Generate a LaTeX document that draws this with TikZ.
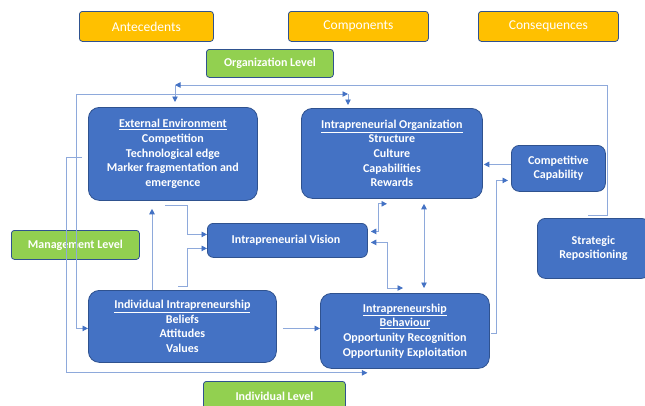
\documentclass[tikz,border=0pt]{standalone}
\usepackage{fontspec}
\setmainfont{Carlito}
\usetikzlibrary{positioning, calc, arrows.meta}
\definecolor{CardBlue} {HTML}{4472C4}
\definecolor{CardEdge} {HTML}{2F528F}
\definecolor{TagGold}  {HTML}{FFC000}
\definecolor{LvlGreen} {HTML}{92D050}
\definecolor{LinkBlue} {HTML}{8EA9DB}
\definecolor{TipBlue}  {HTML}{4472C4}

\tikzset{
  card/.style={fill=CardBlue, draw=CardEdge, line width=0.8pt, rounded corners=11pt,
               anchor=north west, inner sep=0pt, align=center, text=white,
               font=\fontsize{12}{14.6}\selectfont\bfseries},
  tag/.style={fill=TagGold, draw=CardEdge, line width=0.8pt, rounded corners=3pt,
              anchor=north west, inner sep=0pt, text=white,
              font=\fontsize{13.5}{16}\selectfont},
  lvl/.style={fill=LvlGreen, draw=CardEdge, line width=0.8pt, rounded corners=3pt,
              anchor=north west, inner sep=0pt, text=white,
              font=\fontsize{12}{14}\selectfont\bfseries},
  link/.style={draw=LinkBlue, line width=0.9pt},
}

\begin{document}
\begin{tikzpicture}[x=1pt, y=-1pt, >={Triangle[length=5.5pt, width=5.5pt, color=TipBlue]}]
      \useasboundingbox (0,0) rectangle (645,405);

      % Column headers
      \node[tag, minimum width=134pt, minimum height=30pt] (ante) at (79,11) {Antecedents};
      \node[tag, minimum width=140pt, minimum height=30pt] (comp) at (288,11) {Components};
      \node[tag, minimum width=140pt, minimum height=30pt] (cons) at (478,11) {Consequences};

      % Level labels
      \node[lvl, minimum width=127pt, minimum height=28pt] (orglvl) at (206,49) {Organization Level};
      \node[lvl, minimum width=128pt, minimum height=29pt] (mgmtlvl) at (11,230) {Management Level};
      \node[lvl, minimum width=142pt, minimum height=30pt] (indlvl) at (203,381) {Individual Level};

      % Blue cards
      \node[card, minimum width=169pt, minimum height=93pt] (extenv) at (88,107) {
        \underline{External Environment}\\
        Competition\\
        Technological edge\\
        Marker fragmentation and\\
        emergence
      };
      \node[card, minimum width=181pt, minimum height=90pt] (intorg) at (301,108) {
        \underline{Intrapreneurial Organization}\\
        Structure\\
        Culture\\
        Capabilities\\
        Rewards
      };
      \node[card, rounded corners=8pt, minimum width=94pt, minimum height=46pt] (compcap) at (511,145) {
        Competitive\\
        Capability
      };
      \node[card, rounded corners=8pt, minimum width=112pt, minimum height=60pt] (strat) at (537,218) {
        Strategic\\
        Repositioning
      };
      \node[card, rounded corners=6pt, minimum width=160pt, minimum height=34pt] (vision) at (207,223) {
        Intrapreneurial Vision
      };
      \node[card, minimum width=188pt, minimum height=72pt] (indintr) at (88,290) {
        \underline{Individual Intrapreneurship}\\
        Beliefs\\
        Attitudes\\
        Values
      };
      \node[card, minimum width=169pt, minimum height=75pt] (behav) at (320,293) {
        \underline{Intrapreneurship}\\
        \underline{Behaviour}\\
        Opportunity Recognition\\
        Opportunity Exploitation
      };

      % Feedback loops round the top
      \coordinate (toploop) at (175,85);
      \coordinate (orgjoin) at (348,94);
      \draw[link, ->] ($(strat.north west)+(51,-3)$) -- ++(19,0) |- (toploop);
      \draw[link, ->] (toploop) -- ($(toploop |- extenv.north)+(0,-5)$);
      \draw[link, <->] (orgjoin) -| ($(indintr.west)+(-12,2)$) -- ($(indintr.west)+(0,2)$);
      \draw[link, ->] (orgjoin) -- ($(orgjoin |- intorg.north)+(0,-3)$);
      \draw[link, ->] ($(extenv.west)+(-6,3.5)$) -- ++(-16,0) |- ($(behav.south)+(-37.5,4)$);

      % Links round the vision
      \draw[link, ->] ($(indintr.north west)+(64,0)$) -- ($(extenv.south west)+(64,8)$);
      \draw[link, ->] ($(extenv.south west)+(77,5)$) -- ++(22,0) |- ($(vision.west)+(0,-6)$);
      \draw[link, ->] ($(indintr.north west)+(90,-4)$) -- ++(9,0) |- ($(vision.west)+(0,8)$);
      \draw[link, <->] ($(vision.east)+(3,-9)$) -- ++(8,0) |- ($(intorg.south west)+(86,5)$);
      \draw[link, <->] ($(vision.east)+(3,2)$) -- ++(17,0) |- ($(behav.north west)+(83,-5)$);
      \draw[link, <->] ($(intorg.south west)+(123,5)$) -- ($(behav.north west)+(104,-5)$);

      % Right-hand links
      \draw[link, ->] ($(compcap.west)+(0,-4)$) -- ($(intorg.east)+(1,11)$);
      \draw[link, ->] ($(behav.east)+(1,2.5)$) -- ++(6,0) |- ($(compcap.west)+(-3,12)$);
      \draw[link, ->] ($(indintr.east)+(6,2)$) -- ($(behav.west)+(0,-2.5)$);
    \end{tikzpicture}
\end{document}
